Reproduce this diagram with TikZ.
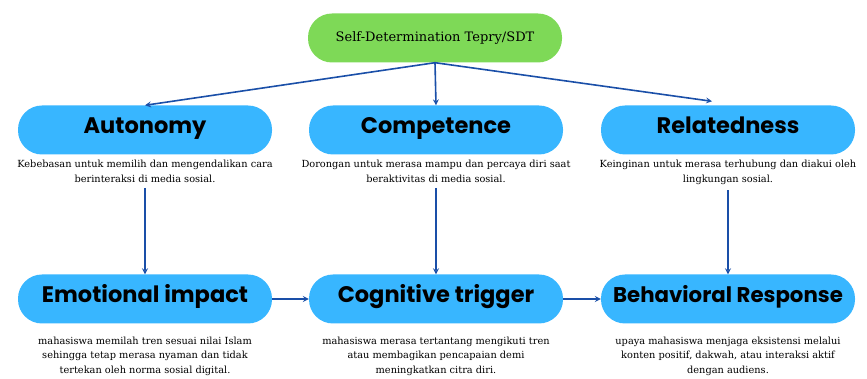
\documentclass[tikz,border=0pt]{standalone}
\usepackage{fontspec}
\usepackage{tikz}
\usetikzlibrary{positioning}
\newfontfamily\headfont{Poppins}[UprightFont=* Bold]
\newfontfamily\bodyfont{DejaVu Serif}
\definecolor{pillblue}{HTML}{38B6FF}
\definecolor{pillgreen}{HTML}{7ED957}
\definecolor{linkblue}{HTML}{1A4FA8}
\tikzset{
	every pill/.style={
		rounded corners=24pt,
		fill=pillblue,
		minimum width=254pt,
		minimum height=49pt,
		inner sep=0pt,
		text height=0.7em,
		text depth=0pt,
		font=\headfont\fontsize{22.5}{24}\selectfont
	},
	pill top/.style={
		fill=pillgreen,
		font=\bodyfont\fontsize{13}{14}\selectfont
	},
	note/.style={
		align=center,
		inner sep=1pt,
		font=\bodyfont\fontsize{9.8}{15}\selectfont
	},
	note low/.style={
		note,
		font=\bodyfont\fontsize{9.8}{14.2}\selectfont
	},
	link/.style={
		->,
		draw=linkblue,
		line width=1.6pt
	},
}

\begin{document}
\begin{tikzpicture}[x=1pt, y=1pt, >=stealth]
\useasboundingbox (0,0) rectangle (867,379);

\node [every pill/.try, pill top, text height=, text depth=] (sdt) at (435,341) {Self-Determination Tepry/SDT};

\foreach \m/\x [count=\i] in {Autonomy/145, Competence/436, Relatedness/728}
	\node [every pill/.try] (need-\i) at (\x,249) {\m};

\foreach \m/\x/\s [count=\i] in {Emotional impact/145/22.5, Cognitive trigger/436/22.5, Behavioral Response/728/21.3}
	\node [every pill/.try, font=\headfont\fontsize{\s}{24}\selectfont] (effect-\i) at (\x,80) {\m};

\foreach \l/\x [count=\i] in {%
	{Kebebasan untuk memilih dan mengendalikan cara\\berinteraksi di media sosial.}/145,
	{Dorongan untuk merasa mampu dan percaya diri saat\\beraktivitas di media sosial.}/436,
	{Keinginan untuk merasa terhubung dan diakui oleh\\lingkungan sosial.}/728}
	\node [note, anchor=north] (why-\i) at (\x,220) {\l};

\foreach \l/\x [count=\i] in {%
	{mahasiswa memilah tren sesuai nilai Islam\\sehingga tetap merasa nyaman dan tidak\\tertekan oleh norma sosial digital.}/145,
	{mahasiswa merasa tertantang mengikuti tren\\atau membagikan pencapaian demi\\meningkatkan citra diri.}/436,
	{upaya mahasiswa menjaga eksistensi melalui\\konten positif, dakwah, atau interaksi aktif\\dengan audiens.}/728}
	\node [note low, anchor=north] (how-\i) at (\x,43) {\l};

\draw [link] (sdt.south) -- (need-1.north);
\draw [link] (sdt.south) -- (need-2.north);
\draw [link] (sdt.south) -- ([xshift=-16pt,yshift=4pt]need-3.north);

\foreach \i in {1,2,3}
	\draw [link] ([yshift=-4pt]why-\i.south) -- (effect-\i.north);

\foreach \i/\j in {1/2, 2/3}
	\draw [link] (effect-\i.east) -- (effect-\j.west);

\end{tikzpicture}
\end{document}
